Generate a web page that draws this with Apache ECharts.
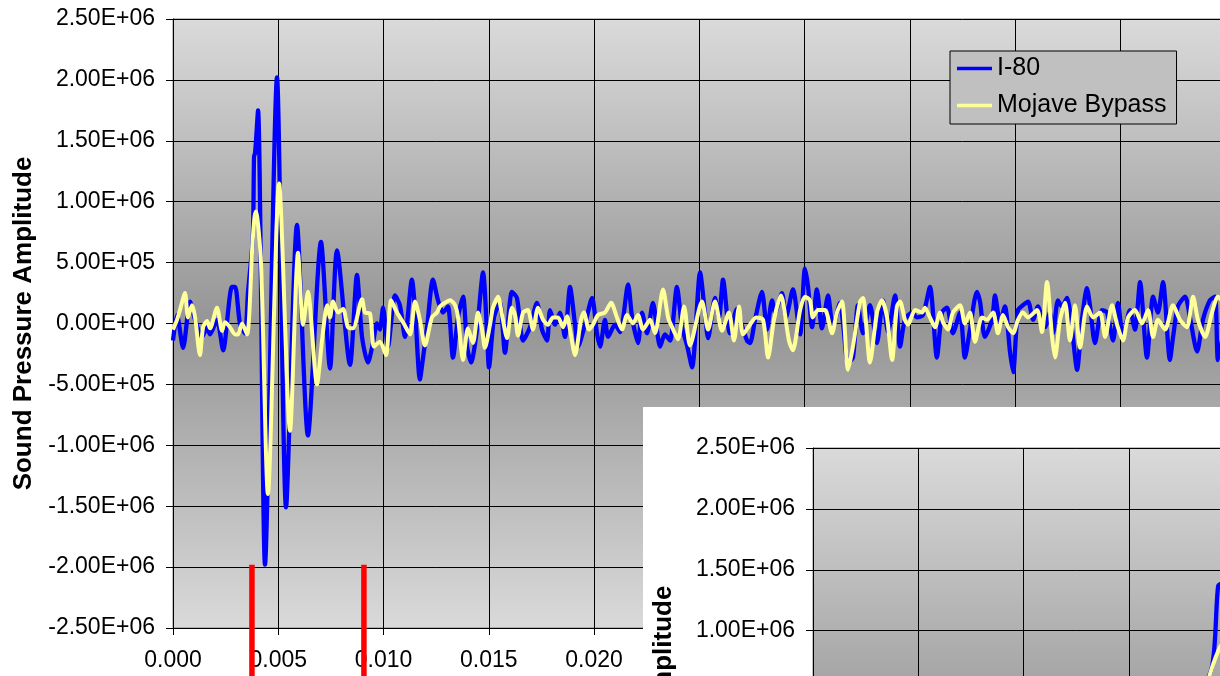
<!DOCTYPE html>
<html>
<head>
<meta charset="utf-8">
<script src="https://cdn.jsdelivr.net/npm/echarts@6/dist/echarts.min.js"></script>
<style>
  html, body { margin: 0; padding: 0; width: 1220px; height: 676px; overflow: hidden; background: #ffffff; }
  #main { position: absolute; left: 0; top: 0; width: 1300px; height: 720px; }
  #inset { position: absolute; left: 643px; top: 407px; width: 1300px; height: 720px; background: #ffffff; }
</style>
</head>
<body>
<div id="main"></div>
<div id="inset"></div>
<script>
// Sound pressure recordings: [time (s), amplitude]
const seriesNames = ['I-80', 'Mojave Bypass'];

const i80 = [
  [0.00000,-1.4e5],[0.00019,0.7e5],[0.00048,-2.0e5],[0.00081,1.8e5],[0.00105,0.3e5],[0.00138,-1.1e5],
  [0.00162,-0.3e5],[0.00176,-0.9e5],[0.00209,0.3e5],[0.00238,-2.2e5],[0.00280,3.0e5],[0.00295,3.0e5],
  [0.00318,0],[0.00342,-0.8e5],[0.00356,2.5e5],[0.00379,7.0e5],[0.00385,13.7e5],[0.00390,14.0e5],
  [0.00404,17.5e5],[0.00437,-19.8e5],[0.00494,20.2e5],[0.00537,-15.1e5],[0.00589,8.1e5],[0.00641,-9.2e5],
  [0.00703,6.7e5],[0.00746,-3.7e5],[0.00779,6.0e5],[0.00841,-3.4e5],[0.00874,4.0e5],[0.00898,-1.1e5],
  [0.00926,-3.2e5],[0.00950,-1.6e5],[0.00969,0],[0.00983,-0.5e5],[0.00998,1.3e5],[0.01012,-0.8e5],
  [0.01021,-1.9e5],[0.01055,2.3e5],[0.01078,1.5e5],[0.01102,-1.1e5],[0.01135,3.6e5],[0.01150,1.1e5],
  [0.01173,-4.6e5],[0.01188,-2.8e5],[0.01207,-0.3e5],[0.01235,3.6e5],[0.01259,1.9e5],[0.01283,0.9e5],
  [0.01306,1.4e5],[0.01330,-2.8e5],[0.01354,0.5e5],[0.01378,2.2e5],[0.01397,-1.9e5],[0.01416,-3.2e5],
  [0.01444,-0.5e5],[0.01473,4.2e5],[0.01492,-0.8e5],[0.01501,-3.6e5],[0.01525,0.5e5],[0.01553,1.7e5],
  [0.01577,-2.4e5],[0.01610,2.6e5],[0.01634,2.1e5],[0.01663,-1.4e5],[0.01696,-0.3e5],[0.01729,1.7e5],
  [0.01753,-0.5e5],[0.01777,-1.4e5],[0.01791,1.1e5],[0.01815,-0.1e5],[0.01838,0.9e5],[0.01862,-1.1e5],
  [0.01886,3.0e5],[0.01910,-0.1e5],[0.01924,-1.9e5],[0.01957,-0.1e5],[0.01991,2.1e5],[0.02014,-0.8e5],
  [0.02029,-1.9e5],[0.02052,0.3e5],[0.02067,-1.1e5],[0.02100,-0.1e5],[0.02124,-0.7e5],[0.02162,3.2e5],
  [0.02181,0.5e5],[0.02209,-1.6e5],[0.02228,0.9e5],[0.02252,-0.8e5],[0.02280,1.7e5],[0.02314,-1.9e5],
  [0.02337,-0.9e5],[0.02361,-1.4e5],[0.02394,3.0e5],[0.02418,-0.3e5],[0.02442,-1.8e5],[0.02466,-3.6e5],
  [0.02504,4.2e5],[0.02527,0.9e5],[0.02542,-1.2e5],[0.02575,2.1e5],[0.02594,0.5e5],[0.02613,3.6e5],
  [0.02646,-0.8e5],[0.02679,1.2e5],[0.02698,0.1e5],[0.02727,-1.4e5],[0.02741,-1.6e5],[0.02765,0.3e5],
  [0.02798,2.6e5],[0.02822,-0.5e5],[0.02846,1.9e5],[0.02860,0.9e5],[0.02893,2.5e5],[0.02912,0.5e5],
  [0.02945,2.8e5],[0.02979,-0.9e5],[0.03002,4.5e5],[0.03017,3.0e5],[0.03036,-0.3e5],[0.03059,2.8e5],
  [0.03083,-0.4e5],[0.03112,2.3e5],[0.03135,-0.3e5],[0.03169,1.7e5],[0.03183,0],[0.03207,-3.2e5],
  [0.03230,-2.8e5],[0.03254,1.5e5],[0.03278,-0.8e5],[0.03311,1.5e5],[0.03344,-1.6e5],[0.03373,1.9e5],
  [0.03397,-0.7e5],[0.03430,2.3e5],[0.03454,-1.9e5],[0.03477,0.3e5],[0.03511,0.9e5],[0.03534,0.5e5],
  [0.03563,0.7e5],[0.03596,3.0e5],[0.03629,-2.8e5],[0.03653,0.9e5],[0.03677,1.3e5],[0.03705,-0.8e5],
  [0.03739,0.9e5],[0.03762,-2.8e5],[0.03786,-0.5e5],[0.03819,2.6e5],[0.03834,1.8e5],[0.03857,-1.1e5],
  [0.03891,0.3e5],[0.03905,2.3e5],[0.03929,0.1e5],[0.03952,1.4e5],[0.03976,-2.3e5],[0.03991,-4.0e5],
  [0.04014,1.1e5],[0.04038,1.5e5],[0.04062,1.8e5],[0.04086,0.3e5],[0.04109,1.4e5],[0.04143,-0.3e5],
  [0.04166,0.9e5],[0.04181,-0.8e5],[0.04204,1.9e5],[0.04223,1.4e5],[0.04247,2.1e5],[0.04271,-0.5e5],
  [0.04295,-3.8e5],[0.04318,0.3e5],[0.04342,2.9e5],[0.04356,1.5e5],[0.04380,-1.6e5],[0.04413,1.1e5],
  [0.04437,0.9e5],[0.04466,-1.4e5],[0.04489,1.7e5],[0.04513,-1.1e5],[0.04546,1.1e5],[0.04570,-0.5e5],
  [0.04594,3.4e5],[0.04627,-2.8e5],[0.04656,2.2e5],[0.04679,0.9e5],[0.04703,3.4e5],[0.04736,-3.0e5],
  [0.04751,-1.1e5],[0.04774,1.4e5],[0.04808,2.2e5],[0.04831,0.5e5],[0.04865,-2.3e5],[0.04893,0.3e5],
  [0.04926,1.9e5],[0.04950,2.2e5],[0.04964,-3.0e5],[0.04983,-1.4e5]
];

const mojave = [
  [0.00000,-0.5e5],[0.00019,0.3e5],[0.00033,1.1e5],[0.00057,2.5e5],[0.00071,0.5e5],[0.00090,1.5e5],
  [0.00105,0.5e5],[0.00128,-2.6e5],[0.00143,-0.3e5],[0.00162,0.2e5],[0.00176,-0.4e5],[0.00209,1.3e5],
  [0.00233,-0.6e5],[0.00247,0.1e5],[0.00271,-0.3e5],[0.00295,-0.9e5],[0.00309,-0.9e5],[0.00328,0],
  [0.00352,-0.9e5],[0.00377,6.4e5],[0.00387,8.7e5],[0.00394,9.2e5],[0.00418,5.0e5],[0.00451,-14.0e5],
  [0.00504,11.5e5],[0.00556,-8.8e5],[0.00594,5.8e5],[0.00618,-0.1e5],[0.00641,2.6e5],[0.00684,-5.0e5],
  [0.00708,-1.4e5],[0.00732,1.5e5],[0.00746,0.5e5],[0.00760,1.8e5],[0.00784,0.9e5],[0.00808,1.2e5],
  [0.00831,-0.3e5],[0.00855,-0.4e5],[0.00898,2.0e5],[0.00912,0.9e5],[0.00936,0.8e5],[0.00955,-1.9e5],
  [0.00983,-1.5e5],[0.01012,-2.6e5],[0.01036,1.9e5],[0.01064,0.9e5],[0.01093,0.1e5],[0.01126,-0.9e5],
  [0.01150,1.8e5],[0.01173,0.3e5],[0.01197,-1.8e5],[0.01230,0.5e5],[0.01254,0.9e5],[0.01268,1.4e5],
  [0.01292,1.7e5],[0.01316,1.9e5],[0.01340,1.5e5],[0.01354,0.5e5],[0.01378,-3.0e5],[0.01401,-0.4e5],
  [0.01425,-1.6e5],[0.01449,0.9e5],[0.01468,-0.5e5],[0.01482,-2.0e5],[0.01506,-0.1e5],[0.01520,1.3e5],
  [0.01544,2.2e5],[0.01563,0.7e5],[0.01587,-1.2e5],[0.01610,1.3e5],[0.01625,0.7e5],[0.01639,-1.0e5],
  [0.01663,0.9e5],[0.01686,1.1e5],[0.01710,-0.5e5],[0.01734,1.3e5],[0.01758,0.3e5],[0.01781,-0.1e5],
  [0.01805,0.5e5],[0.01829,0.5e5],[0.01853,-0.3e5],[0.01872,0.6e5],[0.01886,-0.5e5],[0.01910,-2.6e5],
  [0.01938,0.3e5],[0.01952,0.9e5],[0.01976,-0.5e5],[0.01995,-0.1e5],[0.02019,0.7e5],[0.02052,0.9e5],
  [0.02081,1.7e5],[0.02109,0.5e5],[0.02133,-0.5e5],[0.02157,0.7e5],[0.02185,0],[0.02209,0.7e5],
  [0.02233,-0.5e5],[0.02266,0.3e5],[0.02290,-0.8e5],[0.02328,2.8e5],[0.02352,0.5e5],[0.02371,-0.3e5],
  [0.02399,-1.3e5],[0.02428,1.4e5],[0.02456,-1.8e5],[0.02513,1.8e5],[0.02542,-0.5e5],[0.02575,1.8e5],
  [0.02608,-0.6e5],[0.02641,0.9e5],[0.02665,-1.4e5],[0.02689,1.4e5],[0.02708,-0.9e5],[0.02741,-0.1e5],
  [0.02770,0.5e5],[0.02803,0.3e5],[0.02827,-2.8e5],[0.02855,0.3e5],[0.02888,2.3e5],[0.02926,-1.4e5],
  [0.02945,-2.2e5],[0.02979,1.1e5],[0.03002,2.2e5],[0.03026,1.9e5],[0.03040,0.5e5],[0.03064,1.1e5],
  [0.03097,1.1e5],[0.03131,-0.8e5],[0.03154,0.9e5],[0.03178,1.8e5],[0.03207,-3.8e5],[0.03230,-1.9e5],
  [0.03264,1.8e5],[0.03278,2.1e5],[0.03311,-3.2e5],[0.03344,0.9e5],[0.03368,1.9e5],[0.03392,0.5e5],
  [0.03416,-3.0e5],[0.03439,1.4e5],[0.03454,1.8e5],[0.03477,0.3e5],[0.03492,-0.1e5],[0.03525,1.1e5],
  [0.03558,0.9e5],[0.03572,1.3e5],[0.03596,0.5e5],[0.03620,-0.3e5],[0.03644,0.9e5],[0.03658,0.1e5],
  [0.03682,-0.5e5],[0.03705,0.9e5],[0.03739,1.5e5],[0.03762,0],[0.03786,0.9e5],[0.03810,-1.5e5],
  [0.03843,0.5e5],[0.03867,0.3e5],[0.03896,0.9e5],[0.03919,-0.8e5],[0.03943,0.7e5],[0.03967,-0.3e5],
  [0.03991,-0.8e5],[0.04014,0.3e5],[0.04038,0.9e5],[0.04062,0.5e5],[0.04105,1.1e5],[0.04128,-0.7e5],
  [0.04152,3.4e5],[0.04176,-1.1e5],[0.04190,-2.8e5],[0.04214,0.3e5],[0.04238,1.7e5],[0.04261,-1.4e5],
  [0.04285,1.5e5],[0.04309,-2.0e5],[0.04342,1.4e5],[0.04371,0.5e5],[0.04404,0.9e5],[0.04428,-1.1e5],
  [0.04461,1.5e5],[0.04485,-0.1e5],[0.04513,-1.4e5],[0.04537,0.5e5],[0.04570,1.1e5],[0.04603,0],
  [0.04632,1.1e5],[0.04656,-1.1e5],[0.04679,0.3e5],[0.04713,-0.5e5],[0.04751,1.5e5],[0.04784,0.3e5],
  [0.04817,-0.3e5],[0.04846,2.2e5],[0.04869,0.3e5],[0.04903,-1.1e5],[0.04936,0.9e5],[0.04964,2.2e5],
  [0.04983,1.9e5]
];

// Amplitude axis range and the two event markers (time, top level)
const ampMin = -2.5e6, ampMax = 2.5e6, ampStep = 5e5;
const markerTimes = [0.00375, 0.00907];
const markerLevel = -1.98e6;

const FONT = '"Liberation Sans", Arial, sans-serif';

function sciLabel(v) {
  if (Math.abs(v) < 1e-6) return '0.00E+00';
  const parts = v.toExponential(2).split('e');
  const n = parseInt(parts[1], 10);
  return parts[0] + 'E' + (n < 0 ? '-' : '+') + String(Math.abs(n)).padStart(2, '0');
}

function buildOption(gridLeft, gridTop, xMax, xStep) {
  return {
    animation: false,
    textStyle: { fontFamily: FONT },
    grid: {
      left: gridLeft, top: gridTop, width: 1052.5, height: 609,
      show: true,
      borderColor: '#808080', borderWidth: 1,
      backgroundColor: {
        type: 'linear', x: 0, y: 0, x2: 0, y2: 1,
        colorStops: [
          { offset: 0, color: '#dadada' },
          { offset: 0.5, color: '#959595' },
          { offset: 1, color: '#dadada' }
        ]
      }
    },
    legend: {
      orient: 'vertical',
      left: gridLeft + 777, top: gridTop + 32,
      backgroundColor: '#c0c0c0', borderColor: '#000000', borderWidth: 1,
      padding: [5, 10, 6, 7],
      itemGap: 12, itemWidth: 35, itemHeight: 3.5,
      icon: 'rect',
      textStyle: { fontFamily: FONT, fontSize: 25, lineHeight: 24, color: '#000000' },
      data: seriesNames
    },
    xAxis: {
      type: 'value', min: 0, max: xMax, interval: xStep,
      axisLine: { onZero: false, lineStyle: { color: '#000000', width: 1 } },
      axisTick: { show: true, length: 7, lineStyle: { color: '#000000' } },
      axisLabel: { margin: 21, fontSize: 23, color: '#000000', fontFamily: FONT,
                   formatter: v => v.toFixed(3) },
      splitLine: { show: true, lineStyle: { color: '#000000', width: 1 } }
    },
    yAxis: {
      type: 'value', min: ampMin, max: ampMax, interval: ampStep,
      name: 'Sound Pressure Amplitude', nameLocation: 'middle', nameRotate: 90, nameGap: 136,
      nameTextStyle: { fontSize: 26, fontWeight: 'bold', color: '#000000', fontFamily: FONT },
      axisLine: { show: true, lineStyle: { color: '#000000', width: 1 } },
      axisTick: { show: true, length: 7, lineStyle: { color: '#000000' } },
      axisLabel: { margin: 18, fontSize: 23, color: '#000000', fontFamily: FONT, formatter: sciLabel },
      splitLine: { show: true, lineStyle: { color: '#000000', width: 1 } }
    },
    series: [
      { name: seriesNames[0], type: 'line', data: i80, showSymbol: false, smooth: 0.25,
        lineStyle: { color: '#0000ff', width: 4.3 }, itemStyle: { color: '#0000ff' }, z: 2 },
      { name: seriesNames[1], type: 'line', data: mojave, showSymbol: false, smooth: 0.25,
        lineStyle: { color: '#ffff99', width: 4 }, itemStyle: { color: '#ffff99' }, z: 3 }
    ]
  };
}

// Full record
const mainChart = echarts.init(document.getElementById('main'), null, { renderer: 'canvas' });
mainChart.setOption(buildOption(173, 19, 0.05, 0.005));

// Red event markers hanging from the -2.0E+06 level
const markerRects = markerTimes.map(t => {
  const p = mainChart.convertToPixel({ gridIndex: 0 }, [t, markerLevel]);
  return {
    type: 'rect', z: 100,
    shape: { x: p[0] - 2.75, y: p[1], width: 5.5, height: 720 - p[1] },
    style: { fill: '#ff0000' }
  };
});
mainChart.setOption({ graphic: markerRects });

// Close-up of the first 10 ms
const insetChart = echarts.init(document.getElementById('inset'), null, { renderer: 'canvas' });
insetChart.setOption(buildOption(170, 41, 0.010, 0.001));
</script>
</body>
</html>
